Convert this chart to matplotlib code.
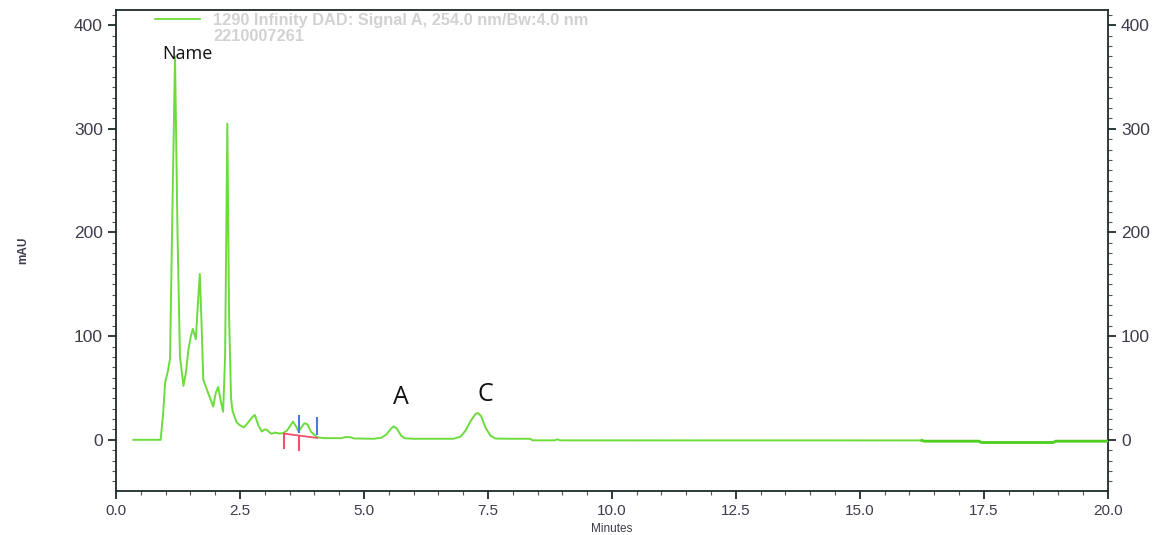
import numpy as np
import matplotlib
matplotlib.use("Agg")
import matplotlib.pyplot as plt
from matplotlib.ticker import MultipleLocator, FormatStrFormatter

# chromatogram trace (minutes, mAU)
minutes = [0.35, 0.90, 0.95, 0.99, 1.04, 1.09, 1.13, 1.19, 1.24, 1.29,
           1.36, 1.41, 1.46, 1.51, 1.55, 1.61, 1.65, 1.69, 1.72, 1.76,
           1.86, 1.96, 2.01, 2.06, 2.11, 2.16, 2.20, 2.245, 2.28, 2.32,
           2.35, 2.43, 2.50, 2.58, 2.67, 2.75, 2.80, 2.87, 2.94, 3.00,
           3.04, 3.10, 3.14, 3.20, 3.30, 3.37, 3.45, 3.52, 3.57, 3.63,
           3.68, 3.74, 3.80, 3.86, 3.93, 4.05, 4.20, 4.55, 4.62, 4.72,
           4.80, 5.20, 5.35, 5.45, 5.55, 5.60, 5.66, 5.75, 5.82, 6.00,
           6.80, 6.95, 7.05, 7.15, 7.25, 7.30, 7.36, 7.45, 7.55, 7.65,
           8.00, 8.35, 8.40, 8.85, 8.90, 8.95, 16.25, 16.30, 17.40, 17.45,
           18.90, 18.95, 20.00]
mau = [0.0, 0.0, 25, 55, 65, 78, 200, 370, 200, 80,
       52, 65, 87, 100, 107, 97, 130, 160, 120, 58,
       45, 32, 45, 51, 38, 27, 80, 305, 120, 40,
       28, 17, 14, 12, 17, 22, 24, 14, 8, 10,
       9.7, 7, 5.8, 7, 6, 6.5, 9, 14, 17.5, 13,
       8, 12, 16, 15, 8, 2.5, 1.6, 1.6, 2.6, 2.6,
       1.3, 1.0, 2, 5, 11, 12.9, 11, 4, 1.5, 1.0,
       1.0, 3, 9, 18, 25, 25.8, 23, 12, 4, 1.2,
       1.0, 1.0, -0.5, -0.5, 0.5, -0.5, -0.6, -1.3, -1.3, -2.6,
       -2.6, -1.3, -1.3]

# integration marks around 3.4-4.1 min
int_times = [3.39, 3.70, 4.06]
int_base = [6.0, 4.0, 1.8]

peak_labels = ["Name", "A", "C"]
label_times = [1.45, 5.75, 7.45]
label_mau = [372, 41, 44]
label_sizes = [13, 18, 18]

legend_title = "1290 Infinity DAD: Signal A, 254.0 nm/Bw:4.0 nm"
legend_id = "2210007261"

green = "#6cdc3c"
axis_col = "#1e2b2b"
tick_col = "#3c3c4c"
sans = ["Liberation Sans", "DejaVu Sans"]

fig = plt.figure(figsize=(11.6, 5.35), dpi=100)
ax = fig.add_axes([0.1, 0.083, 0.855, 0.898])

t = np.array(minutes)
y = np.array(mau)
ax.plot(t, y, color=green, lw=1.4, solid_joinstyle="round", zorder=3)
late = t >= 16.25
ax.plot(t[late], y[late], color="#4fcf1f", lw=2.0, zorder=3)

# integration baseline (red) and peak start/end ticks
ax.plot(int_times, int_base, color="#f0506a", lw=1.3, zorder=4)
for tt, bb in zip(int_times[:2], int_base[:2]):
    ax.plot([tt, tt], [bb, bb - 14], color="#f0506a", lw=1.5, zorder=4)
for tt, bb in zip(int_times[1:], int_base[1:]):
    ax.plot([tt, tt], [bb + 4, bb + 19], color="#4a78e0", lw=1.5, zorder=4)

for txt, tx, ty, fs in zip(peak_labels, label_times, label_mau, label_sizes):
    ax.text(tx, ty, txt, fontsize=fs, ha="center", va="center",
            family=["Open Sans", "DejaVu Sans"], color="#111111")

# legend block at the top
ax.plot([0.039, 0.085], [0.981, 0.981], transform=ax.transAxes,
        color=green, lw=1.3, clip_on=False)
ax.text(0.098, 0.979, legend_title, transform=ax.transAxes, fontsize=11.8,
        fontweight="bold", color="#d2d2d2", va="center", family=sans)
ax.text(0.098, 0.946, legend_id, transform=ax.transAxes, fontsize=11.8,
        fontweight="bold", color="#d2d2d2", va="center", family=sans)

ax.set_xlim(0, 20)
ax.set_ylim(-49, 414.5)
ax.xaxis.set_major_locator(MultipleLocator(2.5))
ax.xaxis.set_minor_locator(MultipleLocator(0.5))
ax.xaxis.set_major_formatter(FormatStrFormatter("%.1f"))
ax.yaxis.set_major_locator(MultipleLocator(100))
ax.yaxis.set_minor_locator(MultipleLocator(10))

for sp in ax.spines.values():
    sp.set_color(axis_col)
    sp.set_linewidth(1.3)

ax.tick_params(axis="y", which="both", left=True, right=True,
               labelleft=True, labelright=True, direction="out",
               color=axis_col, labelcolor=tick_col, labelsize=12.5)
ax.tick_params(axis="y", which="major", length=6, width=1.3)
ax.tick_params(axis="y", which="minor", length=3, width=0.8, color="#555555")
ax.tick_params(axis="x", which="major", length=6, width=1.3, color=axis_col,
               labelcolor=tick_col, labelsize=11)
ax.tick_params(axis="x", which="minor", length=3, width=0.8, color="#555555")
for lab in ax.get_xticklabels() + ax.get_yticklabels():
    lab.set_family(sans)

ax.set_xlabel("Minutes", fontsize=8.5, color=tick_col, labelpad=4, family=sans)
ax.set_ylabel("mAU", fontsize=8.5, fontweight="bold", color=tick_col,
              labelpad=32, family=sans)

fig.savefig("out.png", dpi=100, facecolor="white")
